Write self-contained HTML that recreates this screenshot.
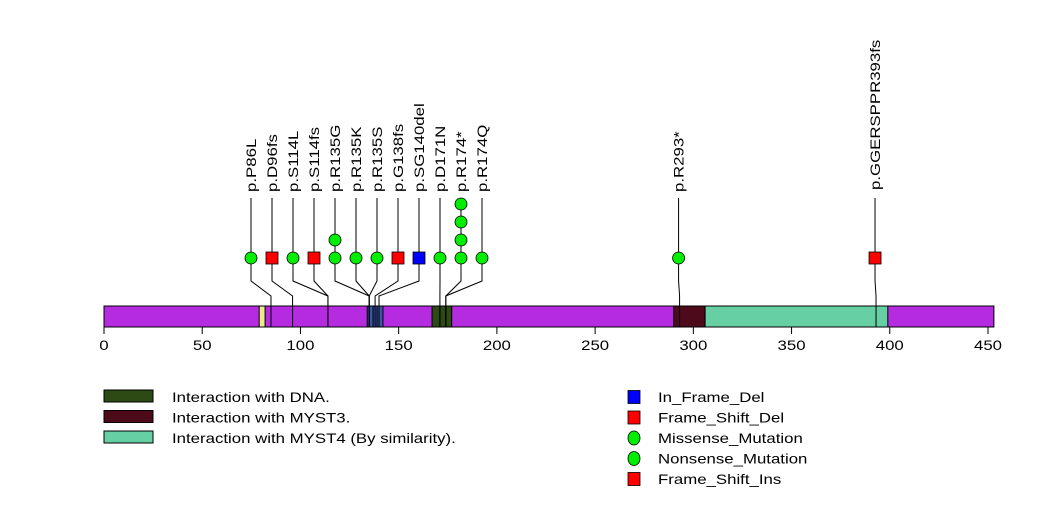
<!DOCTYPE html>
<html><head><meta charset="utf-8"><style>
html,body{margin:0;padding:0;background:#fff}
svg{display:block;font-family:"Liberation Sans",sans-serif}
</style></head><body>
<svg id="chart" width="1047" height="524"></svg>
<script>
const ticks=[0,50,100,150,200,250,300,350,400,450];
const proteinLength=453;
const domainStarts=[79,134,137,139,167,171,174,290,306];
const domainEnds=[82,137,139,142,171,174,177,306,399];
const domainColors=['#ecec88','#3a55aa','#3a55aa','#3a55aa','#2d4a14','#2d4a14','#2d4a14','#4d0a1a','#66cfa3'];
const domainNames=['region-yellow','region-blue-1','region-blue-2','region-blue-3','dna-interaction-1','dna-interaction-2','dna-interaction-3','myst3-interaction','myst4-interaction'];
const mutLabels=['p.P86L','p.D96fs','p.S114L','p.S114fs','p.R135G','p.R135K','p.R135S','p.G138fs','p.SG140del','p.D171N','p.R174*','p.R174Q','p.R293*','p.GGERSPPR393fs'];
const mutPositions=[85,96,114,114,135,135,135,138,140,171,174,174,293,393];
const mutCounts=[1,1,1,1,2,1,1,1,1,1,4,1,1,1];
const mutTypes=['mis','fs','mis','fs','mis','mis','mis','fs','del','mis','mis','mis','mis','fs'];
const legendDomains=['Interaction with DNA.','Interaction with MYST3.','Interaction with MYST4 (By similarity).'];
const legendDomainColors=['#2d4a14','#4d0a1a','#66cfa3'];
const legendMuts=['In_Frame_Del','Frame_Shift_Del','Missense_Mutation','Nonsense_Mutation','Frame_Shift_Ins'];
const legendMutTypes=['del','fs','mis','mis','fs'];

const NS='http://www.w3.org/2000/svg';
const svg=document.getElementById('chart');
const X0=104,SC=884/450,STRETCH=1.2;
const x=a=>X0+a*SC;
function el(t,a,p){const e=document.createElementNS(NS,t);for(const k in a)e.setAttribute(k,a[k]);(p||svg).appendChild(e);return e;}
function stretch(t){const w=t.getComputedTextLength();t.setAttribute('textLength',(w*STRETCH).toFixed(1));t.setAttribute('lengthAdjust','spacingAndGlyphs');}
const barTop=306,barBot=327;
const bb=el('rect',{x:x(0),y:barTop,width:x(proteinLength)-x(0),height:barBot-barTop,fill:'#b42be0',stroke:'#000','stroke-width':1});


domainStarts.forEach((s,i)=>{
  const r=el('rect',{x:x(s),y:barTop,width:x(domainEnds[i])-x(s),height:barBot-barTop,fill:domainColors[i],stroke:'#000','stroke-width':1});
  
  
});
ticks.forEach(t=>{
  el('line',{x1:x(t),x2:x(t),y1:barBot,y2:barBot+7,stroke:'#000'});
  const tx=el('text',{x:x(t),y:350,'font-size':14,'text-anchor':'middle',fill:'#000'});
  tx.textContent=t;
  
  
  stretch(tx);
});
const markerX0=251,markerStep=21;
mutLabels.forEach((lab,i)=>{
  let mx;
  if(i<12) mx=markerX0+i*markerStep; else mx=x(mutPositions[i])-1;
  const bx=x(mutPositions[i]);
  el('polyline',{points:`${mx},198 ${mx},281 ${bx},296 ${bx},${barBot}`,fill:'none',stroke:'#000','stroke-width':1});
  for(let k=0;k<mutCounts[i];k++){
    const cy=258-k*18;
    let m;
    if(mutTypes[i]==='mis') m=el('circle',{cx:mx,cy:cy,r:6,fill:'#00ee00',stroke:'#000','stroke-width':0.8});
    else m=el('rect',{x:mx-6,y:cy-6,width:12,height:12,fill:mutTypes[i]==='fs'?'#ff0000':'#0000ff',stroke:'#000','stroke-width':0.8});
    
    
  }
  const t=el('text',{x:0,y:0,'font-size':14,fill:'#000',transform:`translate(${mx+5},${i===13?190:192}) rotate(-90)`});
  t.textContent=lab;
  
  
  stretch(t);
});
legendDomains.forEach((d,i)=>{
  const y=390+i*20.5;
  const r=el('rect',{x:104,y:y,width:49,height:12,fill:legendDomainColors[i],stroke:'#000','stroke-width':1});
  
  
  const t=el('text',{x:172,y:y+12,'font-size':14,fill:'#000'});
  t.textContent=d;
  
  
  stretch(t);
});
legendMuts.forEach((d,i)=>{
  const cy=397+i*20.5;
  let m;
  if(legendMutTypes[i]==='mis') m=el('ellipse',{cx:634,cy:cy,rx:6,ry:7,fill:'#00ee00',stroke:'#000','stroke-width':0.8});
  else m=el('rect',{x:628,y:cy-6.5,width:12,height:13,fill:legendMutTypes[i]==='fs'?'#ff0000':'#0000ff',stroke:'#000','stroke-width':0.8});
  
  
  const t=el('text',{x:658,y:cy+5,'font-size':14,fill:'#000'});
  t.textContent=d;
  
  
  stretch(t);
});
</script>
</body></html>
